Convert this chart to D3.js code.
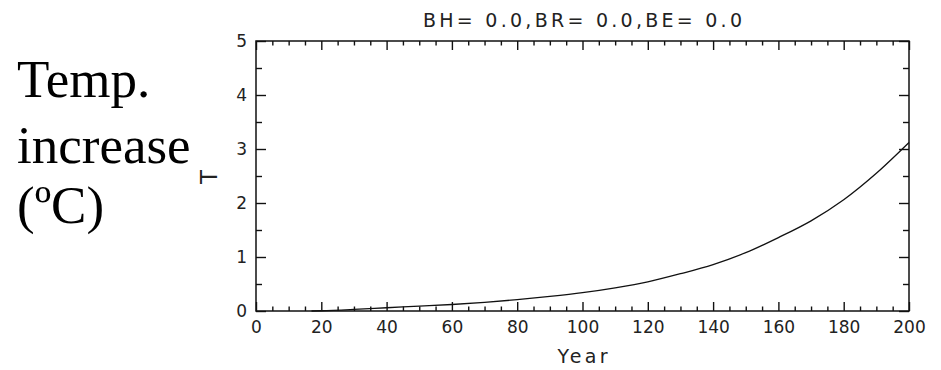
<!DOCTYPE html>
<html lang="en">
<head>
    <meta charset="UTF-8">
    <title>Temp. increase</title>
    <script src="https://d3js.org/d3.v7.min.js"></script>
    <style>
        body { margin: 0; background: #fff; }
        .tick text { font-family: "DejaVu Sans", sans-serif; fill: #222; }
    </style>
</head>
<body>
    <svg width="941" height="370" id="mainsvg"></svg>

    <script>
        // data
        const years = [17, 20, 30, 40, 50, 60, 70, 80, 90, 100, 110, 120, 130, 140, 150, 160, 170, 180, 190, 200];
        const temps = [0.0, 0.005, 0.03, 0.06, 0.09, 0.12, 0.16, 0.21, 0.27, 0.34, 0.43, 0.54, 0.69, 0.86, 1.08, 1.36, 1.67, 2.06, 2.55, 3.12];
        const xMajor = [0, 20, 40, 60, 80, 100, 120, 140, 160, 180, 200];
        const yMajor = [0, 1, 2, 3, 4, 5];
        const titleText = 'BH= 0.0,BR= 0.0,BE= 0.0';
        const sideLines = ['Temp.', 'increase', '(ºC)'];

        const data = years.map((y, i) => ({year: y, t: temps[i]}));

        const svg = d3.select('#mainsvg');
        const plotLeft = 256, plotRight = 909, plotTop = 41, plotBottom = 311;

        const xScale = d3.scaleLinear().domain([0, 200]).range([plotLeft, plotRight]);
        const yScale = d3.scaleLinear().domain([0, 5]).range([plotBottom, plotTop]);

        const xMinor = d3.range(0, 201, 5).filter(v => v % 20 !== 0);
        const yMinor = d3.range(0.5, 5, 1);

        // bottom axis
        svg.append('g').attr('transform', `translate(0,${plotBottom})`)
            .call(d3.axisBottom(xScale).tickValues(xMajor).tickSize(-9).tickPadding(10).tickFormat(d3.format('d')))
            .call(g => g.selectAll('.tick text').attr('font-size', 17));
        svg.append('g').attr('transform', `translate(0,${plotBottom})`)
            .call(d3.axisBottom(xScale).tickValues(xMinor).tickSize(-4.5).tickFormat(''));
        // top axis
        svg.append('g').attr('transform', `translate(0,${plotTop})`)
            .call(d3.axisTop(xScale).tickValues(xMajor).tickSize(-9).tickFormat(''));
        svg.append('g').attr('transform', `translate(0,${plotTop})`)
            .call(d3.axisTop(xScale).tickValues(xMinor).tickSize(-4.5).tickFormat(''));
        // left axis
        svg.append('g').attr('transform', `translate(${plotLeft},0)`)
            .call(d3.axisLeft(yScale).tickValues(yMajor).tickSize(-10).tickPadding(9).tickFormat(d3.format('d')))
            .call(g => g.selectAll('.tick text').attr('font-size', 17));
        svg.append('g').attr('transform', `translate(${plotLeft},0)`)
            .call(d3.axisLeft(yScale).tickValues(yMinor).tickSize(-6).tickFormat(''));
        // right axis
        svg.append('g').attr('transform', `translate(${plotRight},0)`)
            .call(d3.axisRight(yScale).tickValues(yMajor).tickSize(-10).tickFormat(''));
        svg.append('g').attr('transform', `translate(${plotRight},0)`)
            .call(d3.axisRight(yScale).tickValues(yMinor).tickSize(-6).tickFormat(''));

        svg.selectAll('.domain').remove();
        svg.selectAll('.tick line').attr('stroke', '#111').attr('stroke-width', 1.4);

        // frame
        svg.append('rect')
            .attr('x', plotLeft).attr('y', plotTop)
            .attr('width', plotRight - plotLeft).attr('height', plotBottom - plotTop)
            .attr('fill', 'none').attr('stroke', '#111').attr('stroke-width', 1.5);

        // curve
        const line = d3.line().x(d => xScale(d.year)).y(d => yScale(d.t)).curve(d3.curveMonotoneX);
        svg.append('path').datum(data)
            .attr('d', line)
            .attr('fill', 'none').attr('stroke', '#111').attr('stroke-width', 1.3);

        // title and axis labels
        svg.append('text').text(titleText)
            .attr('x', (plotLeft + plotRight) / 2).attr('y', 27)
            .attr('text-anchor', 'middle')
            .attr('font-family', 'DejaVu Sans, sans-serif')
            .attr('font-size', 19).attr('fill', '#222')
            .attr('textLength', 319).attr('lengthAdjust', 'spacing');

        svg.append('text').text('Year')
            .attr('x', (plotLeft + plotRight) / 2).attr('y', 363)
            .attr('text-anchor', 'middle')
            .attr('font-family', 'DejaVu Sans, sans-serif')
            .attr('font-size', 19).attr('fill', '#222')
            .attr('textLength', 50).attr('lengthAdjust', 'spacing');

        svg.append('text').text('T')
            .attr('transform', 'translate(217,177) rotate(-90)')
            .attr('text-anchor', 'middle')
            .attr('font-family', 'DejaVu Sans, sans-serif')
            .attr('font-size', 23).attr('fill', '#222');

        // big serif label on the left
        const baselines = [97, 163, 223];
        svg.append('g').selectAll('text').data(sideLines).join('text')
            .text(d => d)
            .attr('x', 17)
            .attr('y', (d, i) => baselines[i])
            .attr('font-family', 'Liberation Serif, Times New Roman, serif')
            .attr('font-size', 53).attr('fill', '#000');
    </script>
</body>
</html>
